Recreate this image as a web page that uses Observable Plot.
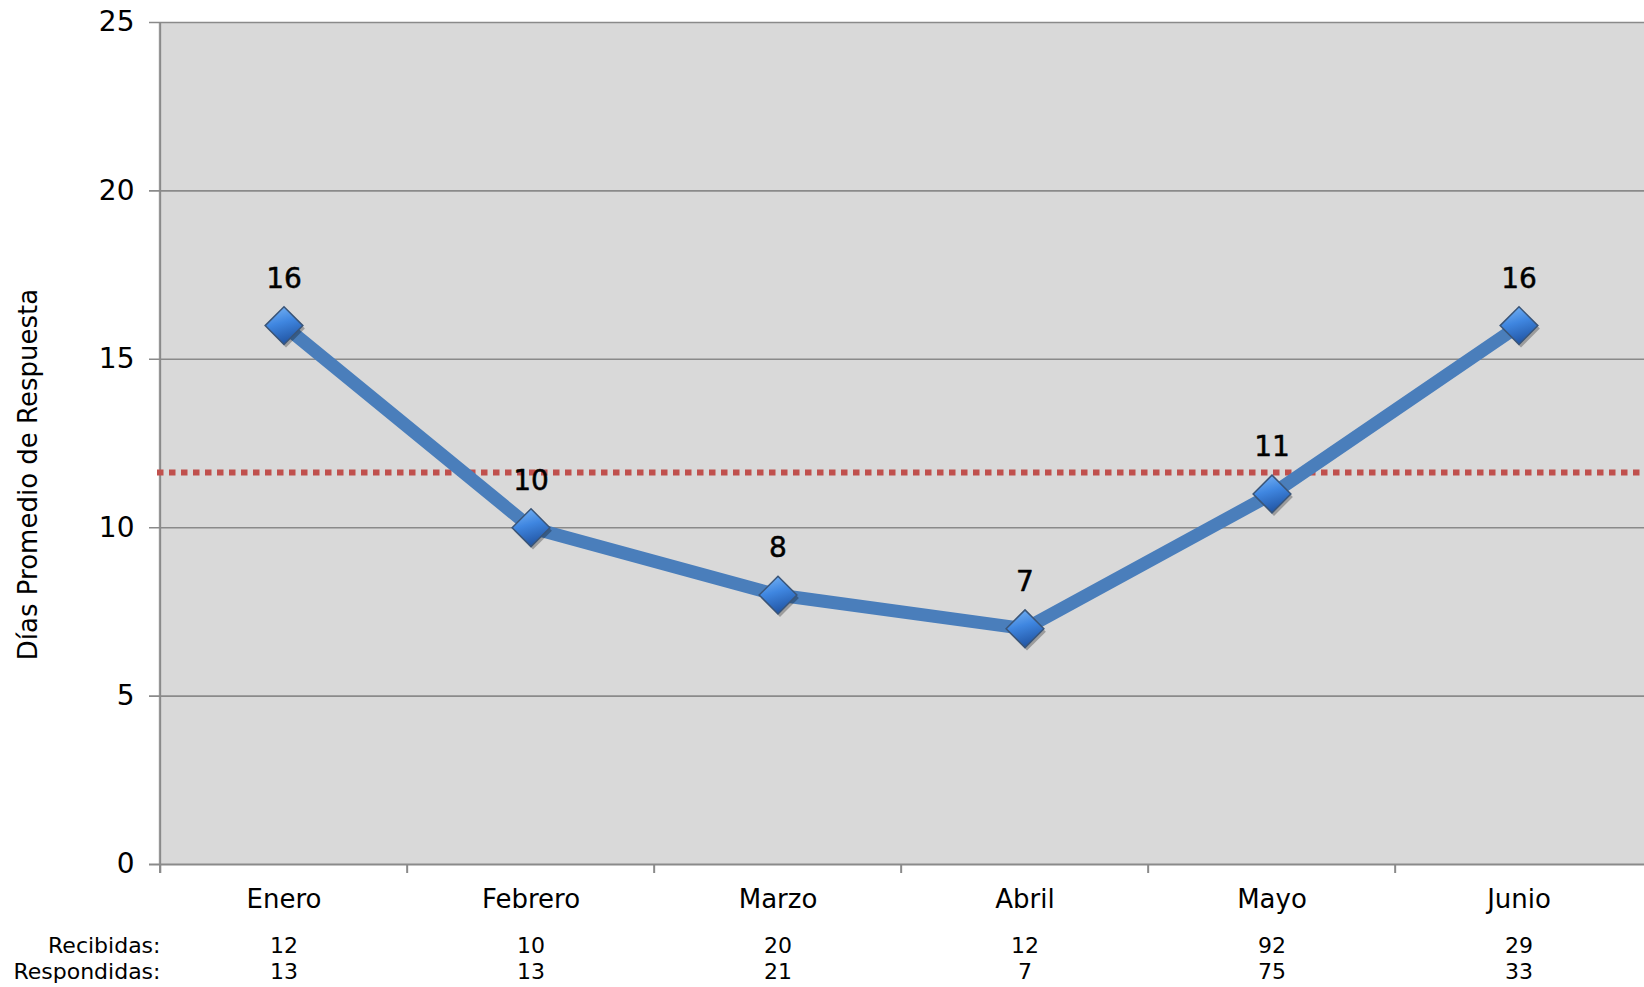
<!DOCTYPE html>
<html>
<head>
<meta charset="utf-8">
<script src="https://cdn.jsdelivr.net/npm/d3@7"></script>
<script src="https://cdn.jsdelivr.net/npm/@observablehq/plot@0.6"></script>
<style>
  html, body { margin: 0; padding: 0; background: #fff; }
  #chart svg { display: block; }
</style>
</head>
<body>
<div id="chart"></div>
<script>
const months = ["Enero", "Febrero", "Marzo", "Abril", "Mayo", "Junio"];
const dias = [16, 10, 8, 7, 11, 16];
const recibidas = [12, 10, 20, 12, 92, 29];
const respondidas = [13, 13, 21, 7, 75, 33];
const promedio = [11.64];
const yTicks = [0, 5, 10, 15, 20, 25];
const yLabel = "Días Promedio de Respuesta";
const rowLabels = ["Recibidas:", "Respondidas:"];

const W = 1644, H = 987, ML = 158, MR = 0, MT = 22, MB = 123;
const bw = (W - ML - MR) / months.length;
const frameH = H - MT - MB;

const data = months.map((m, i) => ({m, d: dias[i], rec: recibidas[i], resp: respondidas[i]}));
const grid = "#8a8a8a";

const chart = Plot.plot({
  width: W, height: H,
  marginLeft: ML, marginRight: MR, marginTop: MT, marginBottom: MB,
  style: {fontFamily: "'DejaVu Sans', sans-serif", background: "#fff", color: "#000", overflow: "visible"},
  x: {type: "band", domain: months, padding: 0, axis: null},
  y: {domain: [0, 25], axis: null},
  marks: [
    Plot.frame({fill: "#d9d9d9", stroke: null}),
    Plot.ruleY(yTicks.slice(1), {stroke: grid, strokeWidth: 1.6, insetLeft: -9}),
    Plot.ruleY([0], {stroke: grid, strokeWidth: 2, insetLeft: -9}),
    Plot.ruleX([months[0]], {dx: -bw / 2, stroke: grid, strokeWidth: 2, insetBottom: -9}),
    Plot.ruleX(months, {dx: -bw / 2, stroke: grid, strokeWidth: 2, insetTop: frameH, insetBottom: -9}),
    Plot.ruleY(promedio, {stroke: "#c0504d", strokeWidth: 6, strokeDasharray: "6.5 5.5", insetLeft: -1}),
    Plot.line(data, {x: "m", y: "d", stroke: "#4a7ebb", strokeWidth: 13, strokeLinejoin: "round"}),
    Plot.dot(data, {x: "m", y: "d", symbol: "diamond2", r: 17, fill: "rgba(0,0,0,0.28)", stroke: null, dx: 2, dy: 3}),
    Plot.dot(data, {x: "m", y: "d", symbol: "diamond2", r: 17, fill: "url(#gdiamond)", stroke: "#3a5578", strokeWidth: 1.5}),
    Plot.text(data, {x: "m", y: "d", text: d => String(d.d), dy: -47, fontSize: 28, fill: "#000", stroke: "#000", strokeWidth: 0.5}),
    Plot.text(yTicks, {y: d => d, text: d => String(d), frameAnchor: "left", textAnchor: "end", dx: -24, fontSize: 28, fill: "#000"}),
    Plot.text([yLabel], {text: d => d, frameAnchor: "left", textAnchor: "middle", rotate: -90, dx: -130, dy: 31, fontSize: 26, fill: "#000"}),
    Plot.text(data, {x: "m", text: "m", frameAnchor: "bottom", dy: 43, fontSize: 26, fill: "#000"}),
    Plot.text(data, {x: "m", text: d => String(d.rec), frameAnchor: "bottom", dy: 88, fontSize: 22, fill: "#000"}),
    Plot.text(data, {x: "m", text: d => String(d.resp), frameAnchor: "bottom", dy: 114, fontSize: 22, fill: "#000"}),
    Plot.text([rowLabels[0]], {text: d => d, frameAnchor: "bottom-left", textAnchor: "end", dx: 2, dy: 88, fontSize: 22, fill: "#000"}),
    Plot.text([rowLabels[1]], {text: d => d, frameAnchor: "bottom-left", textAnchor: "end", dx: 2, dy: 114, fontSize: 22, fill: "#000"})
  ]
});

const defs = d3.select(chart).insert("defs", ":first-child");
const g = defs.append("linearGradient").attr("id", "gdiamond")
  .attr("x1", "0").attr("y1", "0").attr("x2", "0.3").attr("y2", "1");
g.append("stop").attr("offset", "0%").attr("stop-color", "#7db8f7");
g.append("stop").attr("offset", "50%").attr("stop-color", "#3f86e0");
g.append("stop").attr("offset", "100%").attr("stop-color", "#2459a8");

document.getElementById("chart").appendChild(chart);
</script>
</body>
</html>
